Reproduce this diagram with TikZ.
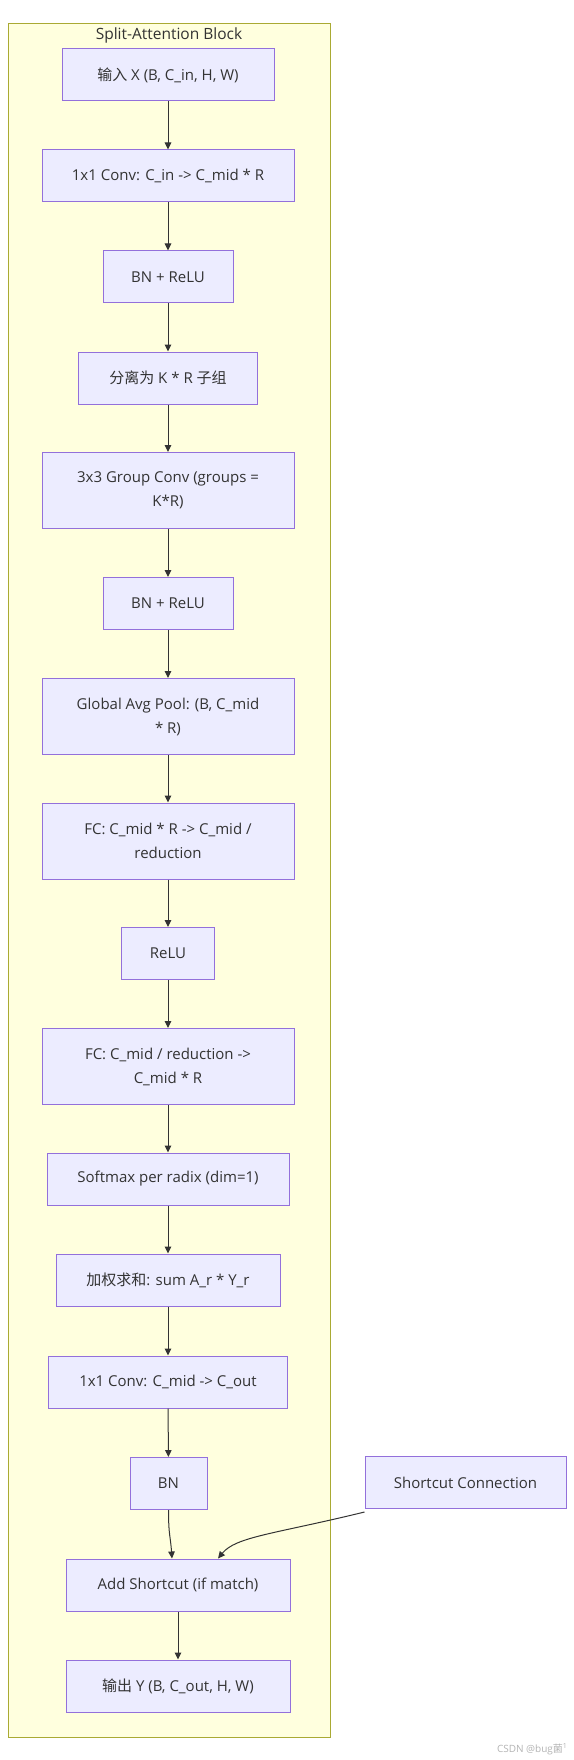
\documentclass[tikz,border=0pt]{standalone}
\usepackage{fontspec}
\setmainfont{Open Sans}
\newfontfamily\cjk{Noto Sans CJK SC}
\usetikzlibrary{arrows.meta}
\definecolor{nodefill}{HTML}{ECECFF}
\definecolor{nodeline}{HTML}{9370DB}
\definecolor{clusterfill}{HTML}{FFFFDE}
\definecolor{clusterline}{HTML}{AAAA33}
\definecolor{txt}{HTML}{333333}
\definecolor{wm}{HTML}{B4B4B4}
\tikzset{
  box/.style={draw=nodeline, fill=nodefill, line width=1pt, rectangle,
    inner sep=0pt, minimum height=52pt, text=txt, align=center,
    font=\fontsize{15}{24}\selectfont},
  tall/.style={minimum height=76pt},
  conn/.style={draw=txt, line width=1pt, -{Triangle[length=7pt,width=6.5pt]}},
}
\begin{document}
\begin{tikzpicture}[x=1pt,y=-1pt]
\useasboundingbox (0,0) rectangle (573,1760);
\fill[white] (0,0) rectangle (573,1760);
\draw[draw=clusterline, fill=clusterfill, line width=1pt] (8,24) rectangle (330,1737);
\node[text=txt, font=\fontsize{15.5}{18}\selectfont] (title) at (169,35) {Split-Attention Block};

\node[box, minimum width=212pt] (a) at (168,75) {{\cjk 输入} X (B, C\_in, H, W)};
\node[box, minimum width=252pt] (b) at (168,176) {1x1 Conv: C\_in -> C\_mid * R};
\node[box, minimum width=130pt] (c) at (168,277) {BN + ReLU};
\node[box, minimum width=179pt] (d) at (168,378) {{\cjk 分离为} K * R {\cjk 子组}};
\node[box, tall, minimum width=252pt] (e) at (168,490.5) {3x3 Group Conv (groups =\\K*R)};
\node[box, minimum width=130pt] (f) at (168,603.5) {BN + ReLU};
\node[box, tall, minimum width=252pt] (g) at (168,716.5) {Global Avg Pool: (B, C\_mid\\* R)};
\node[box, tall, minimum width=252pt] (h) at (168,841) {FC: C\_mid * R -> C\_mid /\\reduction};
\node[box, minimum width=93pt] (i) at (168,953.5) {ReLU};
\node[box, tall, minimum width=252pt] (j) at (168,1066.5) {FC: C\_mid / reduction ->\\C\_mid * R};
\node[box, minimum width=242pt] (k) at (168,1179) {Softmax per radix (dim=1)};
\node[box, minimum width=224pt] (l) at (168,1280) {{\cjk 加权求和}: sum A\_r * Y\_r};
\node[box, minimum width=239pt] (m) at (168,1382) {1x1 Conv: C\_mid -> C\_out};
\node[box, minimum width=77pt] (n) at (168.5,1483.5) {BN};
\node[box, minimum width=201pt] (sc) at (465.5,1482.5) {Shortcut Connection};
\node[box, minimum width=224pt] (o) at (178,1585) {Add Shortcut (if match)};
\node[box, minimum width=224pt] (p) at (178,1686) {{\cjk 输出} Y (B, C\_out, H, W)};

\draw[conn] (a) -- (b);
\draw[conn] (b) -- (c);
\draw[conn] (c) -- (d);
\draw[conn] (d) -- (e);
\draw[conn] (e) -- (f);
\draw[conn] (f) -- (g);
\draw[conn] (g) -- (h);
\draw[conn] (h) -- (i);
\draw[conn] (i) -- (j);
\draw[conn] (j) -- (k);
\draw[conn] (k) -- (l);
\draw[conn] (l) -- (m);
\draw[conn] (m) -- (n);
\draw[conn] (n.south) .. controls +(0,25) and +(-1.5,-22) .. ([xshift=-6pt]o.north);
\draw[conn] ([yshift=-3pt]sc.south west) .. controls +(-90,22) and +(18,-22) .. ([xshift=40pt]o.north);
\draw[conn] (o) -- (p);

\node[text=wm, anchor=east, font=\fontsize{10}{12}\selectfont] (wmk) at (571,1749) {CSDN @bug{\cjk 菌}\textsuperscript{1}};
\end{tikzpicture}
\end{document}
